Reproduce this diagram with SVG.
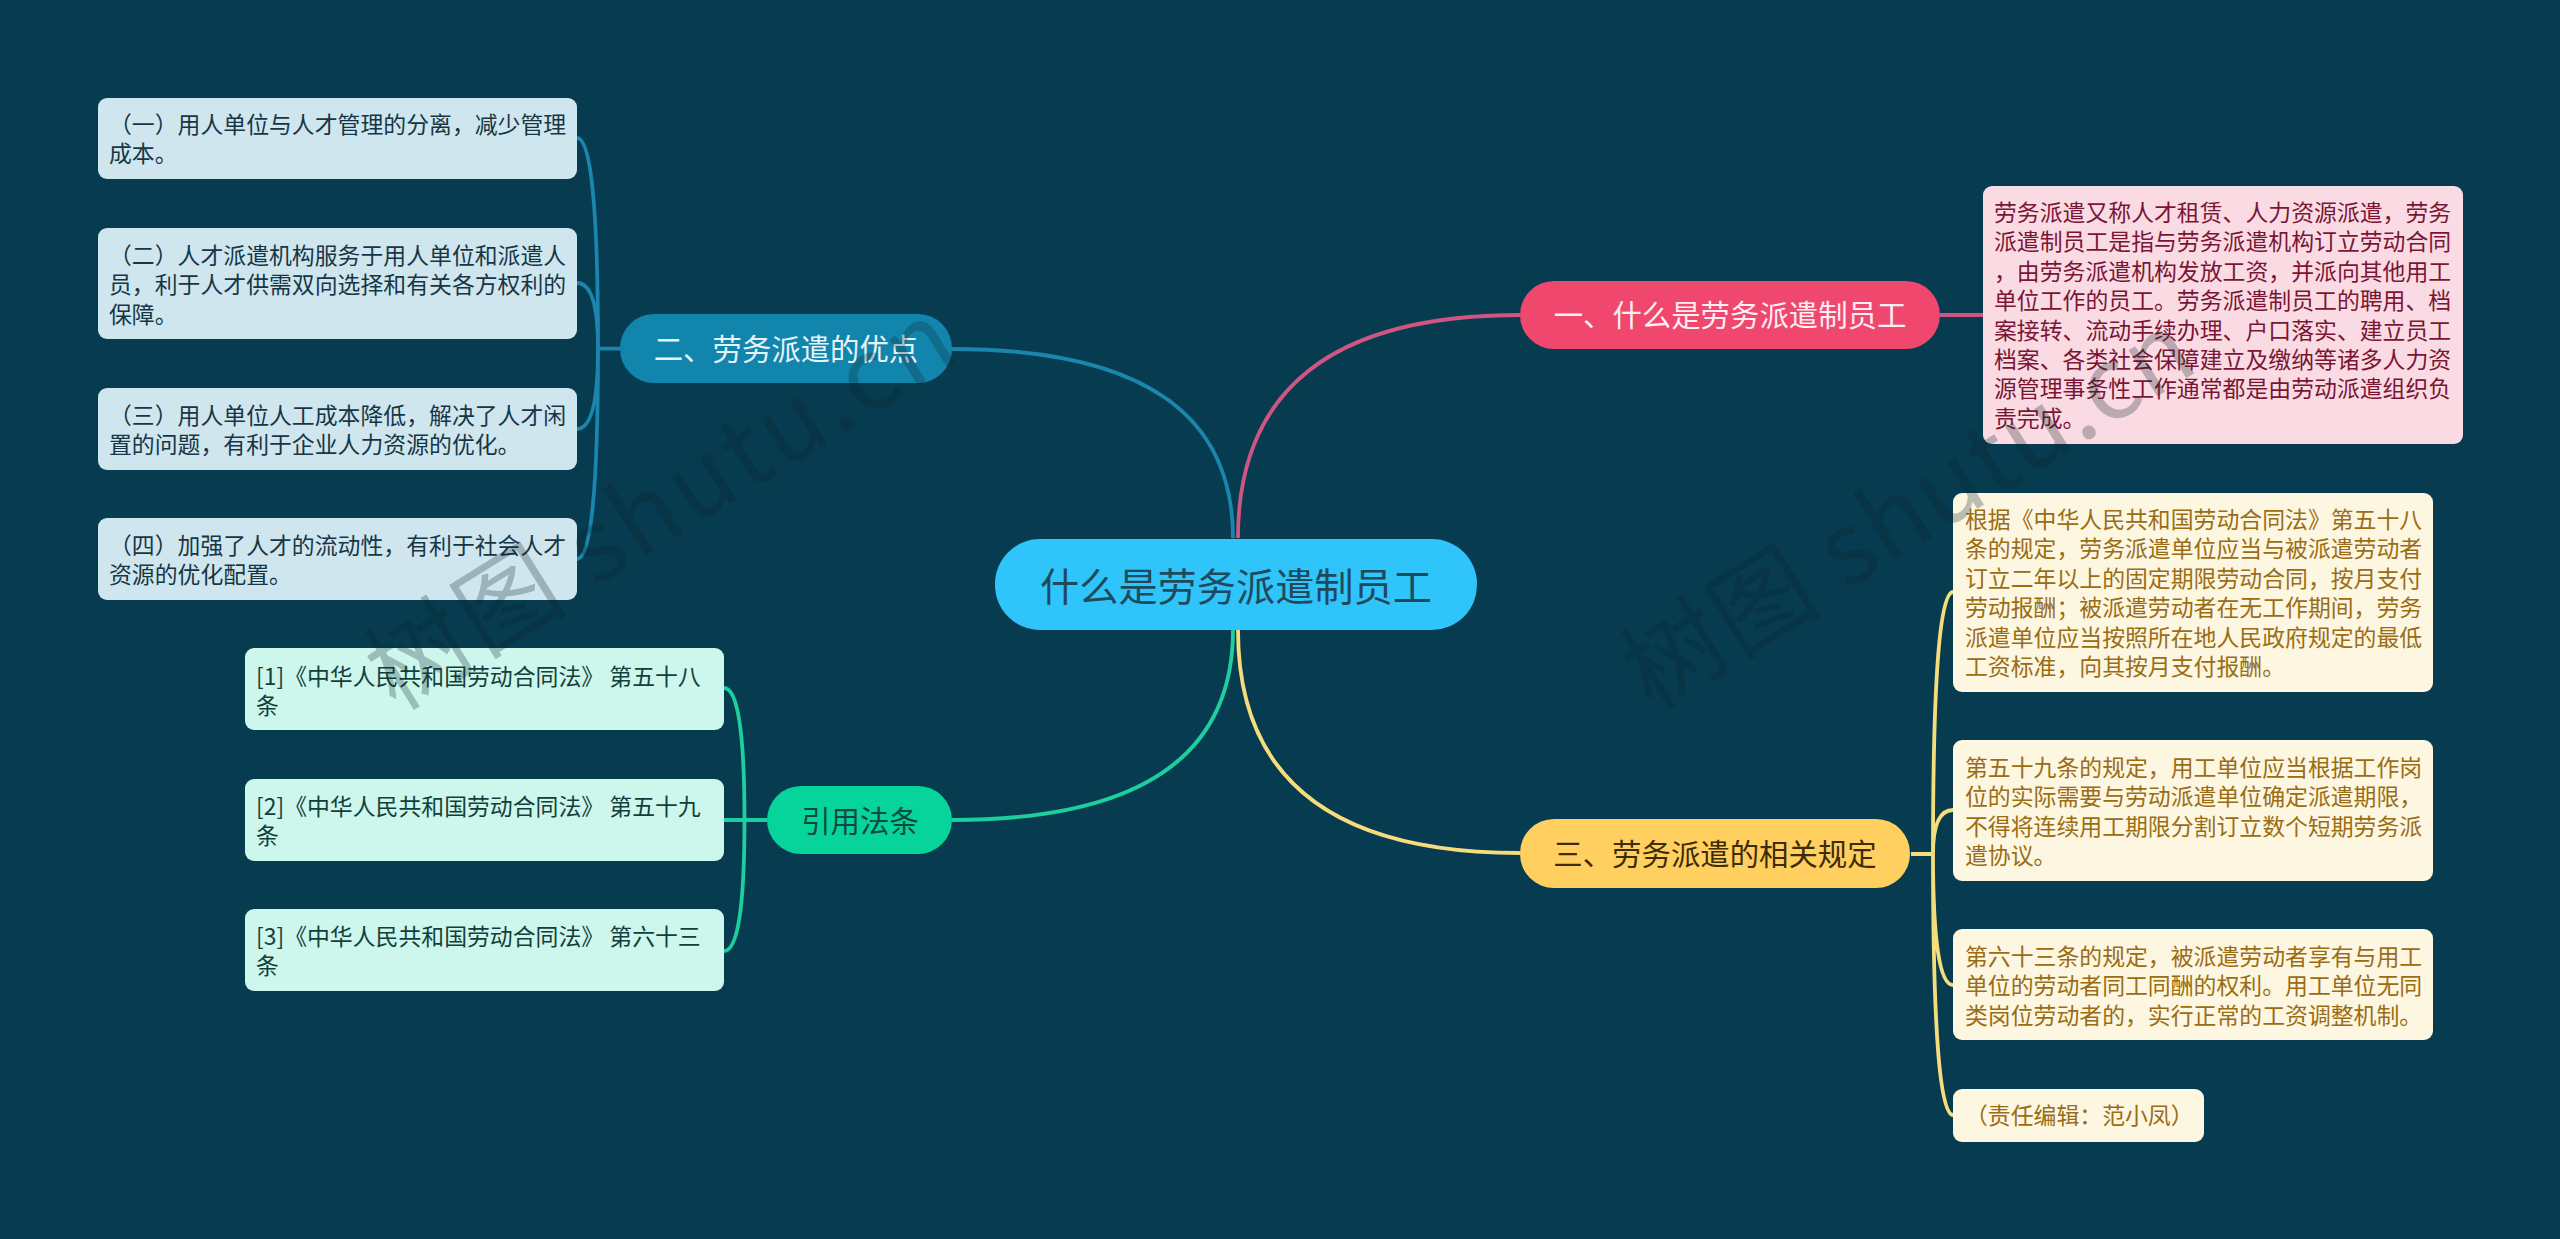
<svg xmlns="http://www.w3.org/2000/svg" width="2560" height="1239" viewBox="0 0 2560 1239">
<style>
text{font-family:"Noto Sans CJK SC","Noto Sans",sans-serif}
.c{fill:none;stroke-width:3.8}
.cb{stroke:#1a86ae}.cp{stroke:#cf5583}.cg{stroke:#1dcf9f}.cy{stroke:#f5dd7d}
.lf{font-size:22.86px}
.nd{font-size:29.4px;text-anchor:middle}
.tb{fill:#173645}.tp{fill:#7a1535}.tg{fill:#123f3a}.ty{fill:#9a6d14}
.fb{fill:#cfe6ef}.fp{fill:#fbdbe3}.fg{fill:#cdf6ec}.fy{fill:#fdf6e0}
.wm{font-size:100px;fill:#10252e;fill-opacity:.27}
</style>
<rect width="2560" height="1239" fill="#063b50"/>
<g id="connectors">
<path class="c cp" d="M1238 538Q1238 315 1520 315"/>
<path class="c cb" d="M1233 538Q1233 349 952 349"/>
<path class="c cg" d="M1233 630Q1233 820 952 820"/>
<path class="c cy" d="M1238 630Q1238 853 1520 853"/>
<path class="c cp" d="M1940 315H1983"/>
<path class="c cb" d="M620 348.6H598Q598 138 577 138M598 348.6Q598 283 577 283M598 348.6Q598 429 577 429M598 348.6Q598 559 577 559"/>
<path class="c cg" d="M767 820H724M744.5 820Q744.5 688 724 688M744.5 820Q744.5 951 724 951"/>
<path class="c cy" d="M1911 854H1933Q1933 592 1953 592M1933 854Q1933 810 1953 810M1933 854Q1933 985 1953 985M1933 854Q1933 1115 1953 1115"/>
</g>
<g id="root"><rect x="995" y="539" width="482" height="91" rx="45" fill="#2fc4fa"/><text x="1236" y="600.5" font-size="39.2" text-anchor="middle" fill="#1f4a5c">什么是劳务派遣制员工</text></g>
<g id="n1"><rect x="1520" y="281" width="420" height="68" rx="34" fill="#f0476f"/><text class="nd" x="1730" y="326" fill="#fdeef2">一、什么是劳务派遣制员工</text></g>
<g id="n2"><rect x="620" y="314" width="332" height="69" rx="34" fill="#1285ad"/><text class="nd" x="786" y="360" fill="#e6f4f9">二、劳务派遣的优点</text></g>
<g id="n3"><rect x="1520" y="819" width="390" height="69" rx="34" fill="#ffcf5f"/><text class="nd" x="1715" y="865" fill="#3d2c05">三、劳务派遣的相关规定</text></g>
<g id="n4"><rect x="767" y="786" width="185" height="68" rx="34" fill="#07d49a"/><text class="nd" x="860" y="832" fill="#0f4a40">引用法条</text></g>
<g id="b1"><rect class="fb" x="98" y="98" width="479" height="81" rx="9"/><text class="lf tb" x="109"><tspan x="109" y="133">（一）用人单位与人才管理的分离，减少管理</tspan><tspan x="109" y="162.4">成本。</tspan></text></g>
<g id="b2"><rect class="fb" x="98" y="228" width="479" height="111" rx="9"/><text class="lf tb"><tspan x="109" y="264">（二）人才派遣机构服务于用人单位和派遣人</tspan><tspan x="109" y="293.4">员，利于人才供需双向选择和有关各方权利的</tspan><tspan x="109" y="322.8">保障。</tspan></text></g>
<g id="b3"><rect class="fb" x="98" y="388" width="479" height="82" rx="9"/><text class="lf tb"><tspan x="109" y="423.5">（三）用人单位人工成本降低，解决了人才闲</tspan><tspan x="109" y="452.9">置的问题，有利于企业人力资源的优化。</tspan></text></g>
<g id="b4"><rect class="fb" x="98" y="518" width="479" height="82" rx="9"/><text class="lf tb"><tspan x="109" y="553.5">（四）加强了人才的流动性，有利于社会人才</tspan><tspan x="109" y="582.9">资源的优化配置。</tspan></text></g>
<g id="g1"><rect class="fg" x="245" y="648" width="479" height="82" rx="9"/><text class="lf tg"><tspan x="256" y="685">[1]《中华人民共和国劳动合同法》 第五十八</tspan><tspan x="256" y="714.4">条</tspan></text></g>
<g id="g2"><rect class="fg" x="245" y="779" width="479" height="82" rx="9"/><text class="lf tg"><tspan x="256" y="815">[2]《中华人民共和国劳动合同法》 第五十九</tspan><tspan x="256" y="844.4">条</tspan></text></g>
<g id="g3"><rect class="fg" x="245" y="909" width="479" height="82" rx="9"/><text class="lf tg"><tspan x="256" y="945">[3]《中华人民共和国劳动合同法》 第六十三</tspan><tspan x="256" y="974.4">条</tspan></text></g>
<g id="p1"><rect class="fp" x="1983" y="186" width="480" height="258" rx="9"/><text class="lf tp"><tspan x="1994" y="221">劳务派遣又称人才租赁、人力资源派遣，劳务</tspan><tspan x="1994" y="250.4">派遣制员工是指与劳务派遣机构订立劳动合同</tspan><tspan x="1994" y="279.8">，由劳务派遣机构发放工资，并派向其他用工</tspan><tspan x="1994" y="309.2">单位工作的员工。劳务派遣制员工的聘用、档</tspan><tspan x="1994" y="338.6">案接转、流动手续办理、户口落实、建立员工</tspan><tspan x="1994" y="368">档案、各类社会保障建立及缴纳等诸多人力资</tspan><tspan x="1994" y="397.4">源管理事务性工作通常都是由劳动派遣组织负</tspan><tspan x="1994" y="426.8">责完成。</tspan></text></g>
<g id="y1"><rect class="fy" x="1953" y="493" width="480" height="199" rx="9"/><text class="lf ty"><tspan x="1965" y="528">根据《中华人民共和国劳动合同法》第五十八</tspan><tspan x="1965" y="557.4">条的规定，劳务派遣单位应当与被派遣劳动者</tspan><tspan x="1965" y="586.8">订立二年以上的固定期限劳动合同，按月支付</tspan><tspan x="1965" y="616.2">劳动报酬；被派遣劳动者在无工作期间，劳务</tspan><tspan x="1965" y="645.6">派遣单位应当按照所在地人民政府规定的最低</tspan><tspan x="1965" y="675">工资标准，向其按月支付报酬。</tspan></text></g>
<g id="y2"><rect class="fy" x="1953" y="740" width="480" height="141" rx="9"/><text class="lf ty"><tspan x="1965" y="776">第五十九条的规定，用工单位应当根据工作岗</tspan><tspan x="1965" y="805.4">位的实际需要与劳动派遣单位确定派遣期限，</tspan><tspan x="1965" y="834.8">不得将连续用工期限分割订立数个短期劳务派</tspan><tspan x="1965" y="864.2">遣协议。</tspan></text></g>
<g id="y3"><rect class="fy" x="1953" y="929" width="480" height="111" rx="9"/><text class="lf ty"><tspan x="1965" y="965">第六十三条的规定，被派遣劳动者享有与用工</tspan><tspan x="1965" y="994.4">单位的劳动者同工同酬的权利。用工单位无同</tspan><tspan x="1965" y="1023.8">类岗位劳动者的，实行正常的工资调整机制。</tspan></text></g>
<g id="y4"><rect class="fy" x="1953" y="1089" width="251" height="53" rx="9"/><text class="lf ty" x="1965" y="1124">（责任编辑：范小凤）</text></g>
<g id="watermark"><text class="wm" letter-spacing="4" transform="translate(396 712) rotate(-32)">树图 shutu.cn</text><text class="wm" letter-spacing="2" transform="translate(1652 712) rotate(-32)">树图 shutu.cn</text></g>
</svg>
